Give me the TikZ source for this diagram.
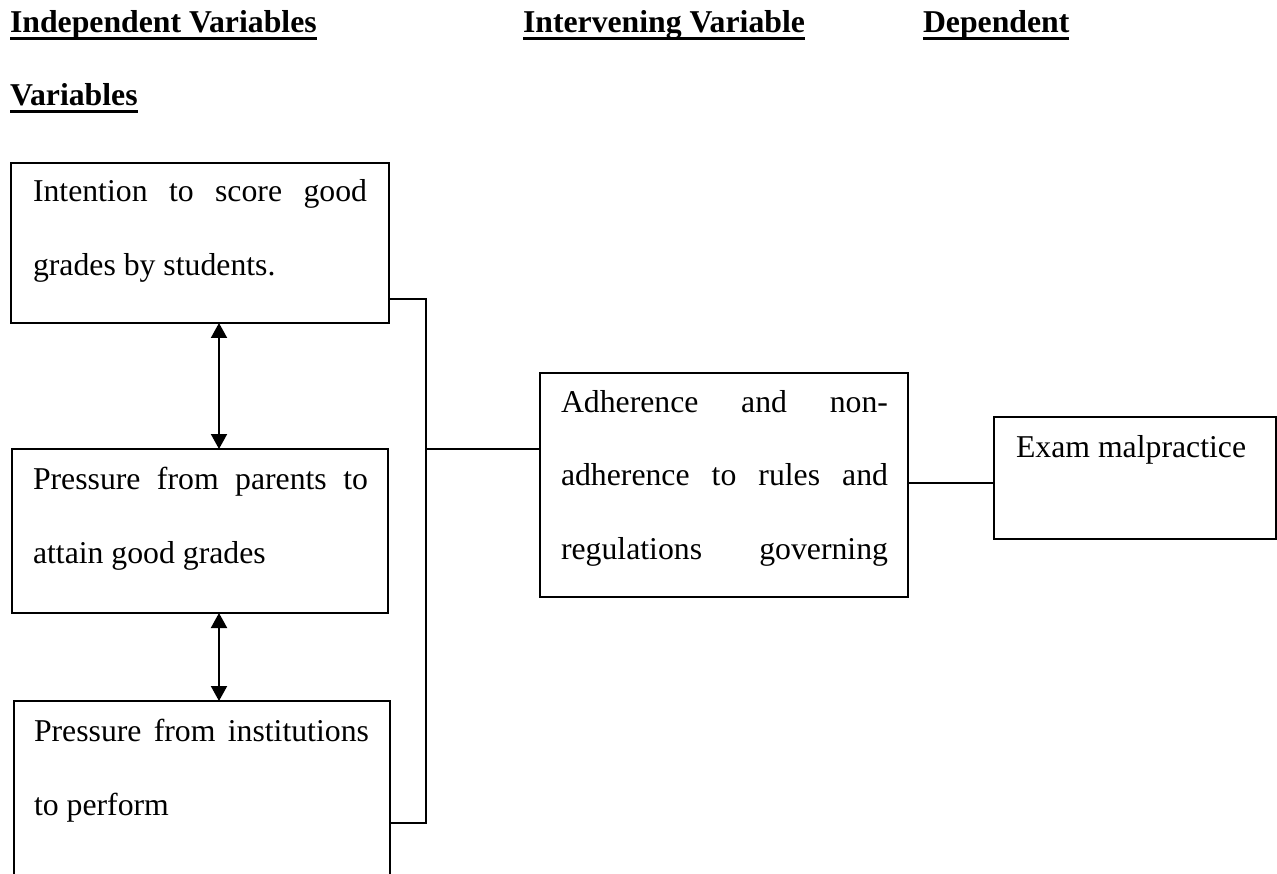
\documentclass[tikz,border=0pt]{standalone}
\usepackage{fontspec}
\setmainfont{Liberation Serif}
\usetikzlibrary{arrows.meta}
\newcommand\mybodyfont{\fontsize{31.75pt}{74pt}\selectfont}
\begin{document}
\begin{tikzpicture}[x=1pt,y=-1pt,
  box/.style={draw, line width=1.6pt, inner sep=0pt, outer sep=0pt, anchor=north west},
  txt/.style={inner sep=0pt, outer sep=0pt, anchor=base west, font=\mybodyfont},
  head/.style={inner sep=0pt, outer sep=0pt, anchor=base west, font=\mybodyfont\bfseries},
  uline/.style={line width=3pt},
  conn/.style={line width=1.4pt},
  dbl/.style={line width=2pt, {Triangle[width=16pt,length=15pt]}-{Triangle[width=16pt,length=15pt]}}
]
\useasboundingbox (0,0) rectangle (1277,874);
\fill[white] (0,0) rectangle (1277,874);
\clip (0,0) rectangle (1277,874);

% headers
\node[head] (h1) at (10,33) {Independent Variables};
\node[head] (h2) at (523,33) {Intervening Variable};
\node[head] (h3) at (923,33) {Dependent};
\node[head] (h4) at (10,106) {Variables};
\foreach \h in {h1,h2,h3,h4}
  \draw[uline] ([yshift=-6pt]\h.base west) -- ([yshift=-6pt]\h.base east);

% boxes
\node[box, minimum width=378pt, minimum height=160pt] (b1) at (11,163) {};
\node[box, minimum width=376pt, minimum height=164pt] (b2) at (12,449) {};
\node[box, minimum width=376pt, minimum height=220pt] (b3) at (14,701) {};
\node[box, minimum width=368pt, minimum height=224pt] (b4) at (540,373) {};
\node[box, minimum width=282pt, minimum height=122pt] (b5) at (994,417) {};

% texts
\node[txt] (t1) at (33,202) {\vtop{\baselineskip=74pt
  \hbox to 334pt{Intention\hfill to\hfill score\hfill good}
  \hbox{grades by students.}}};
\node[txt] (t2) at (33,489) {\vtop{\baselineskip=74pt
  \hbox to 335pt{Pressure\hfill from\hfill parents\hfill to}
  \hbox{attain good grades}}};
\node[txt] (t3) at (34,741) {\vtop{\baselineskip=74pt
  \hbox to 335pt{Pressure\hfill from\hfill institutions}
  \hbox{to perform}}};
\node[txt] (t4) at (561,413) {\vtop{\baselineskip=73pt
  \hbox to 327pt{Adherence\hfill and\hfill non-}
  \hbox to 327pt{adherence\hfill to\hfill rules\hfill and}
  \hbox to 327pt{regulations\hfill governing}}};
\node[txt] (t5) at (1016,457) {Exam malpractice};

% double arrows
\coordinate (ax) at (219,0);
\draw[dbl] (b1.south -| ax) -- (b2.north -| ax);
\draw[dbl] (b2.south -| ax) -- (b3.north -| ax);

% bracket
\coordinate (k1) at (426,299);
\coordinate (k2) at (426,823);
\coordinate (k3) at (426,449);
\draw[conn] (k1 -| b1.east) -- (k1) -- (k2) -- (k2 -| b3.east);
\draw[conn] (k3) -- (k3 -| b4.west);

% link to dependent
\coordinate (m) at (950,483);
\draw[conn] (m -| b4.east) -- (m -| b5.west);
\end{tikzpicture}
\end{document}
